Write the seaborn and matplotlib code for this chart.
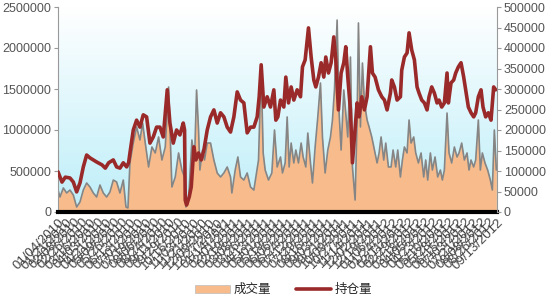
import numpy as np
import pandas as pd
import seaborn as sns
import matplotlib
matplotlib.use("Agg")
import matplotlib.pyplot as plt
from matplotlib.colors import LinearSegmentedColormap
from matplotlib.patches import Patch
from matplotlib.lines import Line2D

# ---------------- data (trading-day index, values in thousands) ----------------
vol_day = [0, 3, 8, 13, 18, 23, 28, 33, 38, 43, 48, 53, 58, 63, 68, 73, 78, 83, 88, 93, 98, 102, 105,
           108, 113, 118, 123, 127, 131, 136, 141, 146, 151, 156, 161, 166,
           171, 176, 181, 186, 190, 192, 196, 201, 205, 208, 211, 213, 217, 220, 224, 229, 234, 239, 244,
           249, 254, 259, 261, 266, 270, 274, 279, 284, 289, 294, 297, 301, 305, 308, 311, 316, 321, 325, 329,
           334, 337, 341, 344, 347, 350, 354, 357, 361, 365, 368, 372, 375, 379, 382, 386, 390, 394, 397,
           401, 405, 409, 412, 415, 419, 422, 425, 429, 432, 435, 439, 442, 446, 449, 451, 454, 457, 460,
           464, 467, 471, 475, 479, 482, 485, 489, 492, 496,
           500, 503, 507, 510, 514, 517, 520, 524, 527, 530, 534, 537, 541, 545, 549, 552, 555, 559, 562,
           566, 570, 574, 577, 580, 584, 587, 591, 595, 599, 602, 606, 610, 614, 617, 620, 624, 627, 631,
           634, 637, 641, 645, 649, 652, 655, 658]
vol_k = [268, 183, 293, 232, 268, 207, 61, 122, 268, 354, 305, 232, 183, 329, 232, 183, 244, 390, 366, 232, 390, 61, 49,
         598, 841, 1037, 878, 1085, 841, 549, 793, 720, 915, 634, 793, 1524,
         305, 427, 720, 512, 427, 61, 146, 878, 634, 1488, 1000, 512, 756, 634, 841, 841, 634, 476, 427,
         476, 549, 427, 232, 512, 671, 427, 390, 476, 305, 268, 427, 634, 1768, 720, 512, 390, 476, 1000, 549,
         671, 476, 598, 1159, 549, 841, 598, 756, 598, 841, 671, 549, 963, 598, 354, 793, 1159, 1573, 915,
         476, 756, 915, 1122, 1488, 2341, 1207, 756, 1488, 1207, 915, 1890, 549, 146, 1122, 2305, 1037, 1817, 1329,
         1122, 1037, 915, 756, 598, 720, 915, 634, 841, 549,
         549, 756, 549, 756, 427, 634, 793, 720, 1122, 841, 915, 720, 598, 720, 427, 634, 390, 720, 512,
         671, 427, 512, 390, 512, 1207, 720, 598, 793, 671, 720, 841, 634, 720, 512, 634, 549, 634, 1122,
         512, 720, 598, 512, 390, 268, 1000, 512]

oi_day = [0, 6, 11, 18, 23, 28, 33, 38, 43, 48, 53, 58, 66, 71, 76, 83, 88, 93, 98, 103, 106, 108, 113,
          118, 123, 128, 133, 138, 143, 148, 153, 158, 164, 168,
          173, 178, 183, 188, 190, 191, 193, 197, 200, 204, 207, 211, 215, 219, 224, 229, 234, 239, 244,
          249, 254, 259, 264, 269, 274, 279, 284, 289, 294, 299, 302, 305, 309, 314, 319, 324, 327,
          330, 334, 339, 342, 346, 350, 354, 359, 364, 367, 371, 376, 380, 384, 387, 391, 395, 399, 402,
          406, 410, 414, 417, 421, 425, 429, 432, 435, 439, 442, 445, 449, 452, 456, 460, 464, 469, 472,
          476, 481, 486, 490, 494, 499,
          501, 505, 509, 514, 516, 520, 524, 527, 531, 535, 539, 542, 546, 550, 554, 557, 561, 565, 569,
          572, 576, 580, 584, 586, 590, 594, 597, 601, 605, 609, 612, 616, 620, 624, 627, 631, 635, 638,
          642, 646, 650, 654, 657]
oi_k = [98, 73, 85, 83, 73, 49, 71, 110, 139, 132, 127, 122, 115, 107, 120, 127, 110, 107, 120, 110, 120, 144, 200,
        224, 207, 237, 232, 168, 183, 207, 207, 183, 298, 217,
        168, 200, 188, 217, 200, 29, 17, 37, 61, 159, 127, 144, 127, 151, 200, 232, 249, 217, 242,
        232, 207, 195, 232, 293, 273, 266, 193, 207, 207, 232, 281, 359, 256, 281, 256, 298, 224,
        232, 273, 256, 329, 266, 305, 273, 298, 281, 354, 371, 449, 378, 322, 305, 329, 364, 329, 378,
        339, 364, 427, 371, 249, 339, 364, 403, 329, 249, 120, 183, 266, 232, 281, 249, 281, 403, 339,
        329, 298, 281, 273, 249, 290,
        322, 305, 273, 281, 346, 378, 388, 437, 395, 371, 305, 290, 273, 266, 249, 281, 305, 290, 266,
        273, 256, 266, 339, 266, 315, 322, 339, 354, 364, 329, 298, 256, 242, 232, 242, 281, 298, 256,
        232, 242, 224, 305, 298]

start_date = "2010-01-04"
end_date = "2012-09-13"
n_days = 660
series_names = ["成交量", "持仓量"]

left_ticks = [0, 500000, 1000000, 1500000, 2000000, 2500000]
right_ticks = [0, 50000, 100000, 150000, 200000, 250000, 300000, 350000, 400000, 450000, 500000]

# ---------------- styling ----------------
sns.set_style("white")
plt.rcParams["font.family"] = ["Liberation Sans", "Noto Sans CJK SC", "DejaVu Sans"]

vol = pd.DataFrame({"day": vol_day, "value": np.array(vol_k) * 1000})
oi = pd.DataFrame({"day": oi_day, "value": np.array(oi_k) * 1000})

fig = plt.figure(figsize=(5.5, 3.0), dpi=100)
ax = fig.add_axes([58 / 550, 88 / 300, (497 - 58) / 550, (212 - 7) / 300])
ax2 = ax.twinx()

# gradient background: white at top -> light cyan at bottom
grad = np.linspace(0, 1, 256).reshape(-1, 1)
cmap = LinearSegmentedColormap.from_list("bg", ["#ffffff", "#bdeef9"])
ax.imshow(grad, cmap=cmap, aspect="auto", extent=[0, 1, 0, 1], origin="upper",
          transform=ax.transAxes, zorder=0, interpolation="bicubic")

area_color = "#f8bc8c"
line_gray = "#858585"
red = "#9a2a2a"

ax.fill_between(vol["day"], vol["value"], 0, color=area_color, lw=0, zorder=1)
sns.lineplot(data=vol, x="day", y="value", ax=ax, color=line_gray, lw=1.2, zorder=2)
sns.lineplot(data=oi, x="day", y="value", ax=ax2, color=red, lw=2.6, zorder=3)

ax.set_xlim(0, n_days - 1)
ax.set_ylim(0, 2500000)
ax2.set_ylim(0, 500000)
ax.set_yticks(left_ticks)
ax.set_yticklabels([str(v) for v in left_ticks])
ax2.set_yticks(right_ticks)
ax2.set_yticklabels([str(v) for v in right_ticks])

# x tick labels as dates
sd = pd.Timestamp(start_date)
ed = pd.Timestamp(end_date)
tick_pos = np.linspace(0, n_days - 1, 56)
tick_lab = [(sd + (ed - sd) * (p / (n_days - 1))).strftime("%m/%d/%Y") for p in tick_pos]
ax.set_xticks(tick_pos)
ax.set_xticklabels(tick_lab, rotation=45, ha="right", rotation_mode="anchor",
                   fontsize=9.5, color="#444444")
ax.tick_params(axis="x", length=0, pad=3)

for a in (ax, ax2):
    a.set_xlabel("")
    a.set_ylabel("")
    for s in a.spines.values():
        s.set_visible(False)
ax.spines["left"].set_visible(True)
ax.spines["left"].set_color("#999999")
ax.spines["left"].set_linewidth(0.8)
ax2.spines["right"].set_visible(True)
ax2.spines["right"].set_color("#999999")
ax2.spines["right"].set_linewidth(0.8)
ax.spines["bottom"].set_visible(True)
ax.spines["bottom"].set_color("black")
ax.spines["bottom"].set_linewidth(3)
ax.spines["bottom"].set_zorder(5)

ax.tick_params(axis="y", left=True, length=3, color="#999999", labelsize=9, labelcolor="#555555", pad=2)
ax2.tick_params(axis="y", right=True, length=3, color="#999999", labelsize=9, labelcolor="#555555", pad=2)
ax.patch.set_visible(False)
ax2.patch.set_visible(False)

handles = [Patch(facecolor=area_color, edgecolor="#bbbbbb", lw=0.5),
           Line2D([0], [0], color=red, lw=2.6)]
fig.legend(handles, series_names, loc="lower center", bbox_to_anchor=(0.515, -0.025), ncol=2,
           frameon=False, fontsize=9, handlelength=2.8, columnspacing=2.0, handletextpad=0.3)

fig.savefig("out.png", dpi=100, facecolor="white")
